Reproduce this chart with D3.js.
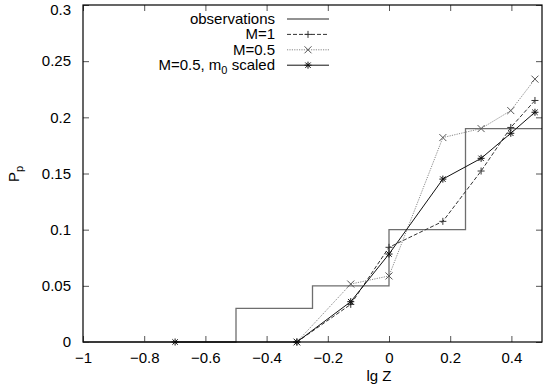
<!DOCTYPE html>
<html>
<head>
<meta charset="utf-8">
<script src="https://cdn.jsdelivr.net/npm/d3@7"></script>
<style>
  body { margin: 0; background: #fff; }
  svg { display: block; font-family: "Liberation Sans", Arial, sans-serif; }
</style>
</head>
<body>
<div id="chart"></div>
<script>
// Data
const xTicks = [-1, -0.8, -0.6, -0.4, -0.2, 0, 0.2, 0.4];
const yTicks = [0, 0.05, 0.1, 0.15, 0.2, 0.25, 0.3];

// observations: step function (x, value)
const obsX = [-1, -0.5, -0.5, -0.25, -0.25, 0, 0, 0.25, 0.25, 0.5];
const obsY = [0, 0, 0.03, 0.03, 0.05, 0.05, 0.1, 0.1, 0.19, 0.19];

const m1X = [-0.301, -0.125, 0, 0.176, 0.301, 0.398, 0.477];
const m1Y = [0, 0.0335, 0.0843, 0.1074, 0.1522, 0.191, 0.215];

const m05X = [-0.301, -0.125, 0, 0.176, 0.301, 0.398, 0.477];
const m05Y = [0, 0.0516, 0.0588, 0.182, 0.19, 0.206, 0.234];

const scaledX = [-0.699, -0.301, -0.125, 0, 0.176, 0.301, 0.398, 0.477];
const scaledY = [0, 0, 0.0359, 0.0783, 0.145, 0.1635, 0.1858, 0.2045];

const width = 543;
const height = 391;
const mLeft = 83, mRight = 542, mTop = 5, mBottom = 342;

const x = d3.scaleLinear().domain([-1, 0.5]).range([mLeft, mRight]);
const y = d3.scaleLinear().domain([0, 0.3]).range([mBottom, mTop]);

const svg = d3.select("#chart").append("svg")
  .attr("width", width)
  .attr("height", height);

// Axes with inward ticks
const fmt = d => d3.format("")(+d.toFixed(2));
svg.append("g")
  .attr("transform", `translate(0,${mBottom})`)
  .call(d3.axisBottom(x).tickValues(xTicks).tickSize(-6).tickPadding(10).tickFormat(fmt));
svg.append("g")
  .attr("transform", `translate(0,${mTop})`)
  .call(d3.axisTop(x).tickValues(xTicks).tickSize(-6).tickFormat(""));
const yAxis = svg.append("g")
  .attr("transform", `translate(${mLeft},0)`)
  .call(d3.axisLeft(y).tickValues(yTicks).tickSize(-6).tickPadding(12).tickFormat(fmt));
svg.append("g")
  .attr("transform", `translate(${mRight},0)`)
  .call(d3.axisRight(y).tickValues(yTicks).tickSize(-6).tickFormat(""));

svg.selectAll(".domain").remove();
svg.selectAll(".tick line").attr("stroke", "#555");
svg.selectAll(".tick text")
  .attr("font-size", 15)
  .attr("font-family", "Liberation Sans, Arial, sans-serif")
  .attr("fill", "#000");
// keep the top label inside the picture
yAxis.selectAll(".tick text").filter(d => d === 0.3).attr("dy", "0.62em");

// Axis labels
svg.append("text")
  .attr("x", 379).attr("y", 381)
  .attr("text-anchor", "middle")
  .attr("font-size", 15)
  .text("lg Z");

const yl = svg.append("text")
  .attr("transform", "translate(19,174) rotate(-90)")
  .attr("text-anchor", "middle")
  .attr("font-size", 15);
yl.append("tspan").text("P");
yl.append("tspan").attr("dy", 4).attr("font-size", 11).text("p");

// Lines
const line = d3.line().x(d => x(d[0])).y(d => y(d[1]));
const zip = (a, b) => a.map((v, i) => [v, b[i]]);

const series = [
  { name: "obs", pts: zip(obsX, obsY), stroke: "#6e6e6e", width: 1.3, dash: null, marker: null },
  { name: "m1", pts: zip(m1X, m1Y), stroke: "#333", width: 1, dash: "4,2", marker: "plus" },
  { name: "m05", pts: zip(m05X, m05Y), stroke: "#888", width: 1, dash: "1.2,1.2", marker: "cross" },
  { name: "scaled", pts: zip(scaledX, scaledY), stroke: "#111", width: 1, dash: null, marker: "star" }
];

function drawMarker(g, type, cx, cy, color) {
  const s = 3.5;
  const segs = [];
  if (type === "plus" || type === "star") {
    segs.push([cx - s, cy, cx + s, cy], [cx, cy - s, cx, cy + s]);
  }
  if (type === "cross" || type === "star") {
    const c = type === "star" ? 2.7 : 3.5;
    segs.push([cx - c, cy - c, cx + c, cy + c], [cx - c, cy + c, cx + c, cy - c]);
  }
  segs.forEach(sg => {
    g.append("line")
      .attr("x1", sg[0]).attr("y1", sg[1]).attr("x2", sg[2]).attr("y2", sg[3])
      .attr("stroke", color).attr("stroke-width", 1);
  });
}

const plot = svg.append("g");
series.forEach(s => {
  plot.append("path")
    .datum(s.pts)
    .attr("d", line)
    .attr("fill", "none")
    .attr("stroke", s.stroke)
    .attr("stroke-width", s.width)
    .attr("stroke-dasharray", s.dash);
  if (s.marker) {
    const mg = plot.append("g");
    s.pts.forEach(p => drawMarker(mg, s.marker, x(p[0]), y(p[1]), s.stroke === "#888" ? "#555" : s.stroke));
  }
});

// Frame
svg.append("rect")
  .attr("x", mLeft).attr("y", mTop)
  .attr("width", mRight - mLeft).attr("height", mBottom - mTop)
  .attr("fill", "none").attr("stroke", "#000").attr("stroke-width", 1.2);

// Legend
const legendLabels = ["observations", "M=1", "M=0.5", "M=0.5, m0 scaled"];
const leg = svg.append("g");
series.forEach((s, i) => {
  const ly = 19 + i * 15.4;
  const t = leg.append("text")
    .attr("x", 275).attr("y", ly + 5)
    .attr("text-anchor", "end")
    .attr("font-size", 15);
  if (i === 3) {
    t.append("tspan").text("M=0.5, m");
    t.append("tspan").attr("dy", 4).attr("font-size", 11).text("0");
    t.append("tspan").attr("dy", -4).text(" scaled");
  } else {
    t.text(legendLabels[i]);
  }
  leg.append("line")
    .attr("x1", 287).attr("x2", 329).attr("y1", ly).attr("y2", ly)
    .attr("stroke", s.stroke).attr("stroke-width", s.width)
    .attr("stroke-dasharray", s.dash);
  if (s.marker) drawMarker(leg, s.marker, 308, ly, s.stroke === "#888" ? "#555" : s.stroke);
});
</script>
</body>
</html>
